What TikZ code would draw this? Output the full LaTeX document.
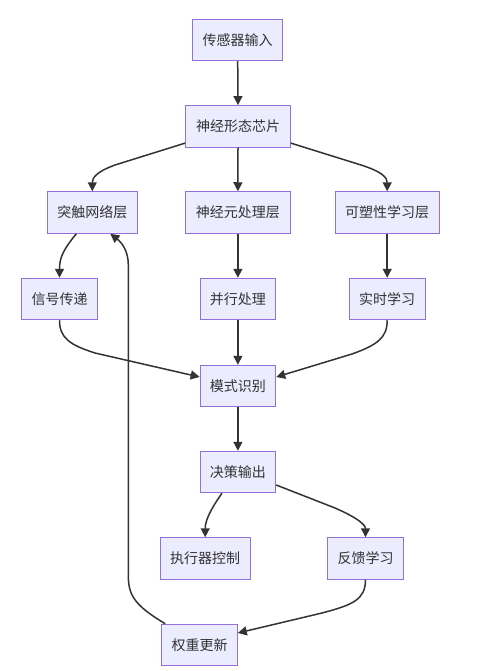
\documentclass[tikz,border=0pt]{standalone}
\usepackage{fontspec}
\newfontfamily\cjk{Noto Sans CJK SC}
\usetikzlibrary{arrows.meta}
\definecolor{boxfill}{HTML}{ECECFF}
\definecolor{boxline}{HTML}{9370DB}
\definecolor{edgecol}{HTML}{333333}
\begin{document}
\begin{tikzpicture}[x=1pt,y=-1pt,
  box/.style={draw=boxline,fill=boxfill,line width=1pt,minimum height=41.5pt,inner sep=0pt,
    font=\cjk\fontsize{14}{16}\selectfont,text=edgecol},
  w4/.style={minimum width=75.6pt},
  w5/.style={minimum width=90.2pt},
  w6/.style={minimum width=104.3pt},
  edge/.style={draw=edgecol,line width=1.5pt,-{Triangle[length=9pt,width=9pt]}}]
\useasboundingbox[fill=white] (0,0) rectangle (486,671);
\node[box,w5] (in) at (237.7,40) {传感器输入};
\node[box,w6] (chip) at (238,126.3) {神经形态芯片};
\node[box,w5] (syn) at (92.3,212.5) {突触网络层};
\node[box,w6] (neu) at (237.9,212.5) {神经元处理层};
\node[box,w6] (pla) at (387.2,212.5) {可塑性学习层};
\node[box,w4] (sig) at (59.5,299) {信号传递};
\node[box,w4] (par) at (237.9,299) {并行处理};
\node[box,w4] (rt) at (387.2,299) {实时学习};
\node[box,w4] (pat) at (237.9,386) {模式识别};
\node[box,w4] (dec) at (237.9,472) {决策输出};
\node[box,w5] (act) at (205.2,558.5) {执行器控制};
\node[box,w4] (fb) at (365.5,558.5) {反馈学习};
\node[box,w4] (wt) at (199.5,645) {权重更新};

\draw[edge] (in.south) -- (chip.north);
\draw[edge] ([yshift=4.5pt]chip.south west) -- (115,165) .. controls (96,172) and (92.3,178) .. (syn.north);
\draw[edge] (chip.south) -- (neu.north);
\draw[edge] ([yshift=4.5pt]chip.south east) -- (361,165) .. controls (383,172) and (387.2,178) .. (pla.north);
\draw[edge] ([xshift=-16pt]syn.south) .. controls (63,250) and (59.5,258) .. (sig.north);
\draw[edge] (neu.south) -- (par.north);
\draw[edge] (pla.south) -- (rt.north);
\draw[edge] (sig.south) .. controls (59.5,338) and (70,345) .. (95,353) -- ([yshift=9pt]pat.west);
\draw[edge] (par.south) -- (pat.north);
\draw[edge] (rt.south) .. controls (387.2,338) and (377,345) .. (352,354) -- ([yshift=9pt]pat.east);
\draw[edge] (pat.south) -- (dec.north);
\draw[edge] ([xshift=-16pt]dec.south) .. controls (211,509) and (205.2,520) .. (act.north);
\draw[edge] ([yshift=-13pt]dec.east) -- (335,508) .. controls (358,518) and (365.5,525) .. (fb.north);
\draw[edge] (fb.south) .. controls (365.5,600) and (352,605) .. (322,613) -- ([yshift=12pt]wt.east);
\draw[edge] ([xshift=4pt]wt.north west) .. controls (134,605) and (128.3,595) .. (128.3,575) -- (128.3,265) .. controls (128.3,250) and (121,242) .. ([xshift=18pt]syn.south);
\end{tikzpicture}
\end{document}
